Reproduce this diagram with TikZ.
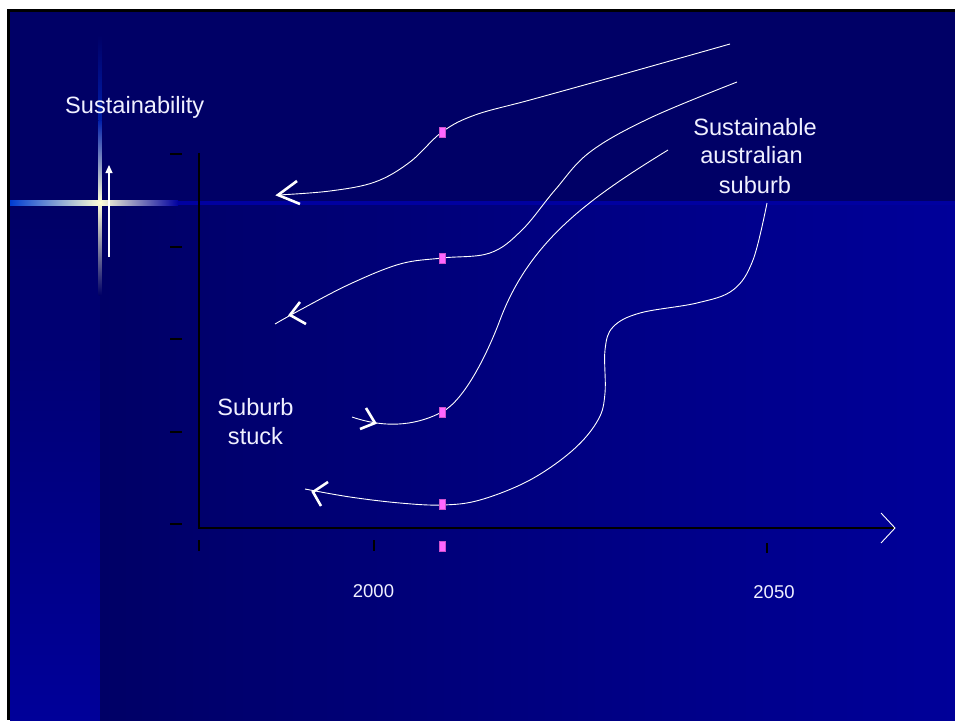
\documentclass[tikz,border=0pt]{standalone}
\usepackage{fontspec}
\setmainfont{Liberation Sans}
\usetikzlibrary{arrows.meta}
\definecolor{bgdark}{RGB}{0,0,102}
\definecolor{bgbright}{RGB}{0,0,153}
\definecolor{bandline}{RGB}{0,0,160}
\definecolor{glowblue}{RGB}{0,90,255}
\definecolor{glowdim}{RGB}{0,30,170}
\definecolor{glowmid}{RGB}{0,60,210}
\definecolor{glowcore}{RGB}{255,255,215}
\definecolor{pinkmark}{RGB}{255,102,255}
\definecolor{txtwhite}{RGB}{240,240,255}
\begin{document}
\begin{tikzpicture}[x=1pt,y=-1pt,
  curve/.style={draw=white,line width=0.9pt},
  chev/.style={draw=white,line width=2.6pt,line cap=butt,line join=miter},
  axisline/.style={draw=black,line width=1.8pt},
  tickmark/.style={draw=black,line width=1.3pt},
  marker/.style={fill=pinkmark,draw=pinkmark!80!black,line width=0.4pt},
  bigtxt/.style={text=txtwhite,font=\fontsize{23.6}{29}\selectfont,inner sep=0pt},
  smalltxt/.style={text=txtwhite,font=\fontsize{18.5}{22}\selectfont,inner sep=0pt}]
\useasboundingbox (0,0) rectangle (955,720);
% frame and background
\fill[white] (0,0) rectangle (955,720);
\fill[black] (7,9) rectangle (955,720);
\fill[bgdark] (10,12) rectangle (955,203);
\shade[top color=bgdark,bottom color=bgbright] (10,203) rectangle (100,720);
\shade[left color=bgdark,right color=bgbright] (100,203) rectangle (955,720);
\fill[bandline] (10,200.5) rectangle (955,204.5);
% glowing cross
\shade[left color=glowmid,middle color=glowblue,right color=glowcore] (10,200) rectangle (100,205);
\shade[left color=glowcore,middle color=glowblue,right color=bandline] (100,200) rectangle (178,205);
\shade[top color=bgdark,bottom color=glowdim] (98.5,35) rectangle (101.5,120);
\shade[top color=glowdim,middle color=glowblue,bottom color=glowcore] (98.5,120) rectangle (101.5,202);
\shade[top color=glowcore,middle color=glowblue,bottom color=bgdark] (98.5,202) rectangle (101.5,295);
% small up arrow
\coordinate (upA) at (109,257);
\coordinate (upB) at (109,165);
\draw[white,line width=1.2pt,-{Triangle[width=7pt,length=8pt]}] (upA) -- (upB);
% axes
\coordinate (origin) at (199,528);
\coordinate (ytop) at (199,153);
\coordinate (xend) at (895,528);
\draw[axisline] (ytop) -- (199,528);
\draw[axisline] (198,528) -- (xend);
\draw[white,line width=0.9pt] (881,513) -- (xend) -- (881,543);
\foreach \yy in {154,247,339,432,524} \draw[tickmark] (170,\yy) -- (182,\yy);
\draw[tickmark] (199,540) -- (199,551);
\draw[tickmark] (374,540) -- (374,551);
\draw[tickmark] (767,543) -- (767,553);
\filldraw[marker] (439,541) rectangle (445,551);
% labels
\node[bigtxt,anchor=base west] (ylab) at (65,113) {Sustainability};
\node[bigtxt,anchor=base] (stuck1) at (255.5,415) {Suburb};
\node[bigtxt,anchor=base] (stuck2) at (255.5,444) {stuck};
\node[bigtxt,anchor=base] (sus1) at (755,135) {Sustainable};
\node[bigtxt,anchor=base] (sus2) at (751.5,163) {australian};
\node[bigtxt,anchor=base] (sus3) at (755,193) {suburb};
\node[smalltxt,anchor=base] (y2000) at (373.5,597) {2000};
\node[smalltxt,anchor=base] (y2050) at (774,598) {2050};
% curves
\draw[curve] plot[smooth,tension=0.6] coordinates {(730,44) (613,77) (530,100) (475,115) (442,132) (410,162) (375,182) (330,191) (278,195)};
\draw[curve] plot[smooth,tension=0.6] coordinates {(737,82) (650,118) (590,152) (555,190) (522,230) (490,253) (442,258) (400,264) (350,284) (300,310) (275,324)};
\draw[curve] (668,150) .. controls (590,198) and (530,240) .. (500,320)
  .. controls (488,352) and (465,400) .. (442,412)
  .. controls (420,423.5) and (390,430) .. (352,417);
\draw[curve] plot[smooth,tension=0.6] coordinates {(767,203) (753,260) (733,290) (697,303) (640,313) (613,327) (605,350) (605,393) (598,420) (573,450) (530,480) (480,500) (442,505) (400,503) (350,497) (305,489)};
% chevrons
\draw[chev] (297,181) -- (278,195) -- (300,204);
\draw[chev] (300,302) -- (290,315) -- (306,324);
\draw[chev] (366,408) -- (375,423) -- (360,429);
\draw[chev] (328,482) -- (313,492) -- (321,506);
% markers on curves
\filldraw[marker] (439,127) rectangle (445,137);
\filldraw[marker] (439,253) rectangle (445,263);
\filldraw[marker] (439,407) rectangle (445,417);
\filldraw[marker] (439,499) rectangle (445,509);
\end{tikzpicture}
\end{document}
